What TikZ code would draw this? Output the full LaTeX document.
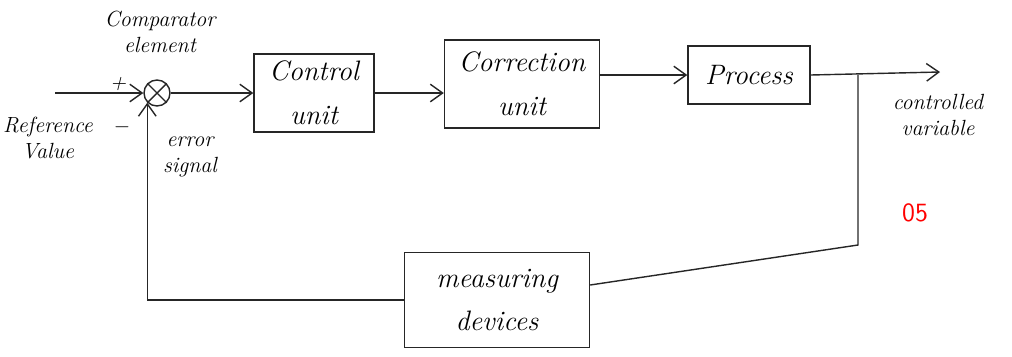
\documentclass[tikz,border=0pt]{standalone}
\usetikzlibrary{arrows.meta,calc}
\tikzset{
  line/.style={line width=0.8pt, draw=black!85},
  arr/.style={line, -{Straight Barb[length=7pt,width=10pt]}},
  blockbox/.style={line, rectangle, inner sep=0pt, align=center,
    font=\fontsize{16}{25}\selectfont\itshape},
  lbl/.style={inner sep=0pt, align=center, font=\fontsize{12.5}{15}\selectfont\itshape},
  sumnode/.style={line, circle, minimum size=26*0.02cm, inner sep=0pt}
}
\begin{document}
\begin{tikzpicture}[x=0.02cm, y=-0.02cm]
\useasboundingbox (0,0) rectangle (1012,356);
% comparator
\node[sumnode] (cmp) at (157,93) {};
\draw[line] (cmp.north west) -- (cmp.south east);
\draw[line] (cmp.north east) -- (cmp.south west);
% blocks
\node[blockbox, minimum width=120*0.02cm, minimum height=78*0.02cm] (ctrl) at (314,93) {Control\\unit};
\node[blockbox, minimum width=155*0.02cm, minimum height=88*0.02cm] (corr) at (522,84) {Correction\\unit};
\node[blockbox, minimum width=122*0.02cm, minimum height=58*0.02cm] (proc) at (749,75) {Process};
\node[blockbox, minimum width=185*0.02cm, minimum height=95*0.02cm] (meas) at (497,300) {measuring\\devices};
% labels
\node[lbl] (cmplbl) at (160,32) {Comparator\\element};
\node[lbl] (reflbl) at (48,138) {Reference\\Value};
\node[lbl] (errlbl) at (190,157) {error\\signal};
\node[lbl] (outlbl) at (938,115) {controlled\\variable};
\node[lbl] (plus) at (118,84) {+};
\node[lbl] (minus) at (122,127) {$-$};
\node[inner sep=0pt, text=red, font=\fontsize{15}{18}\selectfont\sffamily] (mark) at (915,213) {05};
% coordinates
\coordinate (in) at (55,93);
\coordinate (out) at (940,72);
\coordinate (br) at (858,75);
\coordinate (brd) at (858,245);
% forward path
\draw[arr] (in) -- (cmp.west);
\draw[arr] (cmp.east) -- (ctrl.west |- cmp.east);
\draw[arr] (ctrl.east) -- (corr.west |- ctrl.east);
\draw[arr] (corr.east |- proc.west) -- (proc.west);
\draw[arr] (proc.east) -- (out);
% feedback
\draw[line] (br) -- (brd) -- ($(meas.east)+(0,-15)$);
\draw[arr] (meas.west) -- (cmp.south west |- meas.west) -- (cmp.south west);
\end{tikzpicture}
\end{document}
